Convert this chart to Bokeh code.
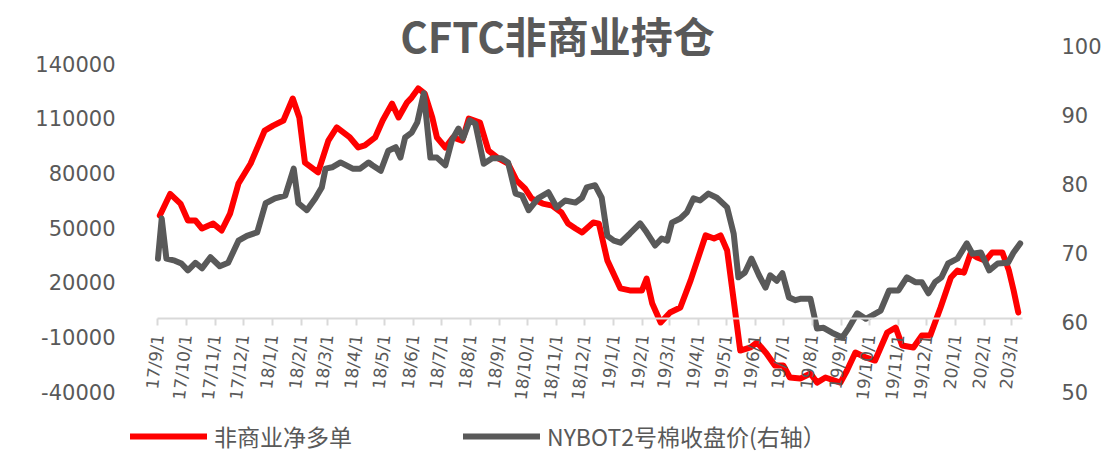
import pandas as pd
from bokeh.plotting import figure
from bokeh.models import (Range1d, LinearAxis, FixedTicker, Label, Legend,
                          LegendItem, ColumnDataSource, NumeralTickFormatter)
from bokeh.embed import file_html
from bokeh.resources import INLINE

title_text = "CFTC非商业持仓"
net_long_name = "非商业净多单"
price_name = "NYBOT2号棉收盘价(右轴）"

x_tick_labels = ["17/9/1", "17/10/1", "17/11/1", "17/12/1",
                 "18/1/1", "18/2/1", "18/3/1", "18/4/1", "18/5/1", "18/6/1",
                 "18/7/1", "18/8/1", "18/9/1", "18/10/1", "18/11/1", "18/12/1",
                 "19/1/1", "19/2/1", "19/3/1", "19/4/1", "19/5/1", "19/6/1",
                 "19/7/1", "19/8/1", "19/9/1", "19/10/1", "19/11/1", "19/12/1",
                 "20/1/1", "20/2/1", "20/3/1"]
left_ticks = [-40000, -10000, 20000, 50000, 80000, 110000, 140000]
right_ticks = [50, 60, 70, 80, 90, 100]

net_long_dates = [
    "2017-09-03", "2017-09-14", "2017-09-25", "2017-10-03", "2017-10-11", "2017-10-18",
    "2017-10-30", "2017-11-08", "2017-11-17", "2017-11-26", "2017-12-09", "2017-12-24",
    "2018-01-02", "2018-01-13", "2018-01-23", "2018-01-30", "2018-02-05", "2018-02-19",
    "2018-03-02", "2018-03-11", "2018-03-25", "2018-04-03", "2018-04-10", "2018-04-21",
    "2018-04-29", "2018-05-09", "2018-05-16", "2018-05-25", "2018-05-30", "2018-06-06",
    "2018-06-13", "2018-06-21", "2018-06-26", "2018-07-05", "2018-07-13", "2018-07-23",
    "2018-07-30", "2018-08-11", "2018-08-20", "2018-08-31", "2018-09-10", "2018-09-19",
    "2018-09-28", "2018-10-05", "2018-10-17", "2018-10-27", "2018-11-06", "2018-11-13",
    "2018-11-21", "2018-11-28", "2018-12-10", "2018-12-16", "2018-12-25", "2019-01-08",
    "2019-01-18", "2019-01-31", "2019-02-05", "2019-02-11", "2019-02-20", "2019-03-02",
    "2019-03-13", "2019-03-24", "2019-04-09", "2019-04-18", "2019-04-25", "2019-05-02",
    "2019-05-09", "2019-05-16", "2019-05-27", "2019-06-03", "2019-06-13", "2019-06-22",
    "2019-07-01", "2019-07-08", "2019-07-19", "2019-07-30", "2019-08-06", "2019-08-15",
    "2019-08-31", "2019-09-07", "2019-09-16", "2019-09-27", "2019-10-07", "2019-10-20",
    "2019-10-29", "2019-11-05", "2019-11-17", "2019-11-26", "2019-12-05", "2019-12-16",
    "2019-12-27", "2020-01-03", "2020-01-10", "2020-01-17", "2020-01-24", "2020-02-02",
    "2020-02-09", "2020-02-20", "2020-02-27", "2020-03-03", "2020-03-08"]
net_long = [
    56600, 68500, 63200, 53900, 53900, 49500,
    52200, 48400, 57700, 74200, 85200, 103300,
    106000, 108800, 120900, 110500, 85700, 80300,
    97800, 105000, 99500, 94000, 95100, 99500,
    108800, 118100, 110500, 118700, 121400, 126400,
    123600, 110500, 99500, 94000, 99500, 97800,
    109900, 107700, 92300, 87900, 85200, 75900,
    71500, 66000, 63200, 62100, 58300, 52200,
    49500, 47300, 52800, 52200, 32000, 16600,
    15500, 15500, 22000, 8300, -2100, 3400,
    6100, 21000, 45700, 44000, 45700, 37400,
    10000, -17500, -15800, -13100, -19100, -25700,
    -25700, -32300, -32900, -30100, -35100, -32300,
    -35100, -28500, -18600, -21300, -23000, -7600,
    -4900, -14700, -15800, -9200, -9200, 6100,
    22600, 26400, 25300, 35800, 33600, 31900,
    36300, 36300, 26400, 15500, 3400]

price_dates = [
    "2017-09-01", "2017-09-05", "2017-09-10", "2017-09-19", "2017-09-26", "2017-10-03",
    "2017-10-11", "2017-10-18", "2017-10-27", "2017-11-06", "2017-11-15", "2017-11-26",
    "2017-12-05", "2017-12-16", "2017-12-25", "2018-01-04", "2018-01-15", "2018-01-24",
    "2018-01-29", "2018-02-07", "2018-02-16", "2018-02-23", "2018-02-27", "2018-03-06",
    "2018-03-15", "2018-03-28", "2018-04-05", "2018-04-14", "2018-04-18", "2018-04-27",
    "2018-05-05", "2018-05-13", "2018-05-18", "2018-05-23", "2018-05-30", "2018-06-05",
    "2018-06-12", "2018-06-19", "2018-06-26", "2018-07-05", "2018-07-12", "2018-07-19",
    "2018-07-24", "2018-07-31", "2018-08-06", "2018-08-15", "2018-08-24", "2018-09-03",
    "2018-09-10", "2018-09-18", "2018-09-25", "2018-10-02", "2018-10-12", "2018-10-23",
    "2018-11-01", "2018-11-10", "2018-11-21", "2018-11-28", "2018-12-03", "2018-12-12",
    "2018-12-19", "2018-12-25", "2019-01-01", "2019-01-08", "2019-01-18", "2019-01-29",
    "2019-02-05", "2019-02-14", "2019-02-21", "2019-02-27", "2019-03-04", "2019-03-13",
    "2019-03-20", "2019-03-27", "2019-04-03", "2019-04-12", "2019-04-21", "2019-05-02",
    "2019-05-09", "2019-05-14", "2019-05-21", "2019-05-28", "2019-06-05", "2019-06-12",
    "2019-06-17", "2019-06-24", "2019-06-30", "2019-07-07", "2019-07-14", "2019-07-19",
    "2019-07-30", "2019-08-06", "2019-08-13", "2019-08-22", "2019-09-02", "2019-09-09",
    "2019-09-18", "2019-09-27", "2019-10-04", "2019-10-13", "2019-10-22", "2019-11-01",
    "2019-11-10", "2019-11-19", "2019-11-26", "2019-12-03", "2019-12-10", "2019-12-17",
    "2019-12-24", "2020-01-03", "2020-01-13", "2020-01-19", "2020-01-28", "2020-02-06",
    "2020-02-15", "2020-02-26", "2020-03-03", "2020-03-10"]
price = [
    69.2, 75.0, 69.2, 68.9, 68.5, 67.5,
    68.6, 67.8, 69.4, 68.1, 68.6, 71.8,
    72.5, 73.0, 77.2, 77.9, 78.3, 82.2,
    77.2, 76.2, 77.9, 79.5, 82.2, 82.4,
    83.1, 82.2, 82.2, 83.1, 82.7, 81.9,
    84.8, 85.3, 83.8, 86.7, 87.4, 88.9,
    93.1, 83.8, 83.8, 82.7, 86.3, 88.0,
    86.6, 89.2, 88.7, 82.9, 83.7, 83.7,
    83.1, 78.6, 78.3, 76.2, 77.9, 78.8,
    76.6, 77.6, 77.3, 78.0, 79.5, 79.8,
    78.0, 72.5, 71.8, 71.5, 72.8, 74.3,
    73.0, 71.1, 72.1, 71.8, 74.4, 75.0,
    75.9, 77.9, 77.6, 78.6, 78.0, 76.6,
    72.8, 66.5, 67.2, 69.2, 66.8, 65.0,
    66.8, 66.0, 67.1, 63.6, 63.2, 63.4,
    63.4, 59.1, 59.2, 58.5, 57.8, 59.2,
    61.3, 60.5, 61.0, 61.7, 64.6, 64.6,
    66.5, 65.8, 65.8, 64.2, 65.8, 66.5,
    68.5, 69.2, 71.4, 69.9, 70.1, 67.5,
    68.5, 68.6, 70.1, 71.4]

GRAY_TXT = "#595959"
RED = "#FF0000"
LINE_GRAY = "#595959"
CJK = "Noto Sans CJK SC"
NUM = "DejaVu Sans"

W, H = 1110, 454
# plot-area box inside the canvas (pixels)
PA_LEFT, PA_RIGHT, PA_TOP, PA_BOTTOM = 157, 1022, 45, 391


def ms(ts):
    return pd.Timestamp(ts).value / 1e6


tick_ms = []
for s in x_tick_labels:
    yy, mm, dd = s.split("/")
    tick_ms.append(ms(pd.Timestamp(2000 + int(yy), int(mm), int(dd))))
overrides = {t: lab for t, lab in zip(tick_ms, x_tick_labels)}

# data window of the plot area
x_lo, x_hi = ms("2017-08-31 12:00"), ms("2020-03-12 12:00")
yl_lo, yl_hi = -40000, 150000
yr_lo, yr_hi = 50, 100

# extend ranges so that the frame fills the whole canvas
pa_w = PA_RIGHT - PA_LEFT
pa_h = PA_BOTTOM - PA_TOP
xs = (x_hi - x_lo) / pa_w
yls = (yl_hi - yl_lo) / pa_h
yrs = (yr_hi - yr_lo) / pa_h

p = figure(width=W, height=H, output_backend="svg", toolbar_location=None,
           x_axis_type=None, y_axis_type=None,
           x_range=Range1d(x_lo - PA_LEFT * xs, x_hi + (W - PA_RIGHT) * xs),
           y_range=Range1d(yl_lo - (H - PA_BOTTOM) * yls, yl_hi + PA_TOP * yls),
           min_border=0, min_border_left=0, min_border_right=0,
           min_border_top=0, min_border_bottom=0)
p.extra_y_ranges = {"price": Range1d(yr_lo - (H - PA_BOTTOM) * yrs,
                                     yr_hi + PA_TOP * yrs)}
p.outline_line_color = None
p.background_fill_color = "white"
p.border_fill_color = "white"
p.xgrid.visible = False
p.ygrid.visible = False

src_red = ColumnDataSource(dict(x=pd.to_datetime(net_long_dates), y=net_long))
src_gray = ColumnDataSource(dict(x=pd.to_datetime(price_dates), y=price))

r_red = p.line("x", "y", source=src_red, line_color=RED, line_width=6,
               line_join="round", line_cap="round")
r_gray = p.line("x", "y", source=src_gray, line_color=LINE_GRAY, line_width=6,
                line_join="round", line_cap="round", y_range_name="price")

# category (date) axis crossing at zero of the left axis
xaxis = LinearAxis(ticker=FixedTicker(ticks=tick_ms),
                   major_label_overrides=overrides,
                   fixed_location=0, bounds=(x_lo, x_hi),
                   axis_line_color="#D9D9D9", axis_line_width=2,
                   major_tick_line_color="#D9D9D9", major_tick_line_width=2,
                   major_tick_in=0, major_tick_out=7,
                   minor_tick_line_color=None,
                   major_label_orientation=1.46,
                   major_label_standoff=9,
                   major_label_text_font=NUM,
                   major_label_text_font_size="17px",
                   major_label_text_color=GRAY_TXT)
p.add_layout(xaxis, "below")

laxis = LinearAxis(ticker=FixedTicker(ticks=left_ticks),
                   formatter=NumeralTickFormatter(format="0"),
                   fixed_location=x_lo,
                   axis_line_color=None, major_tick_line_color=None,
                   minor_tick_line_color=None, major_label_standoff=36,
                   major_label_text_font=NUM,
                   major_label_text_font_size="21px",
                   major_label_text_color=GRAY_TXT)
p.add_layout(laxis, "left")

raxis = LinearAxis(y_range_name="price", ticker=FixedTicker(ticks=right_ticks),
                   fixed_location=x_hi,
                   axis_line_color=None, major_tick_line_color=None,
                   minor_tick_line_color=None, major_label_standoff=33,
                   major_label_text_font=NUM,
                   major_label_text_font_size="21px",
                   major_label_text_color=GRAY_TXT)
p.add_layout(raxis, "right")

title = Label(x=557, y=H - 34, x_units="screen", y_units="screen",
              text=title_text, text_align="center", text_baseline="middle",
              text_font=CJK, text_font_size="42px", text_font_style="bold",
              text_color=GRAY_TXT)
p.add_layout(title)

legend = Legend(items=[LegendItem(label=net_long_name, renderers=[r_red]),
                       LegendItem(label=price_name, renderers=[r_gray])],
                orientation="horizontal", location=(130, 1),
                glyph_width=77, glyph_height=22, label_standoff=7,
                label_width=239, spacing=10, padding=0, margin=0,
                border_line_color=None, background_fill_alpha=0,
                label_text_font=CJK, label_text_font_size="23px",
                label_text_color=GRAY_TXT)
p.add_layout(legend)

open("out.html", "w").write(file_html(p, INLINE))
